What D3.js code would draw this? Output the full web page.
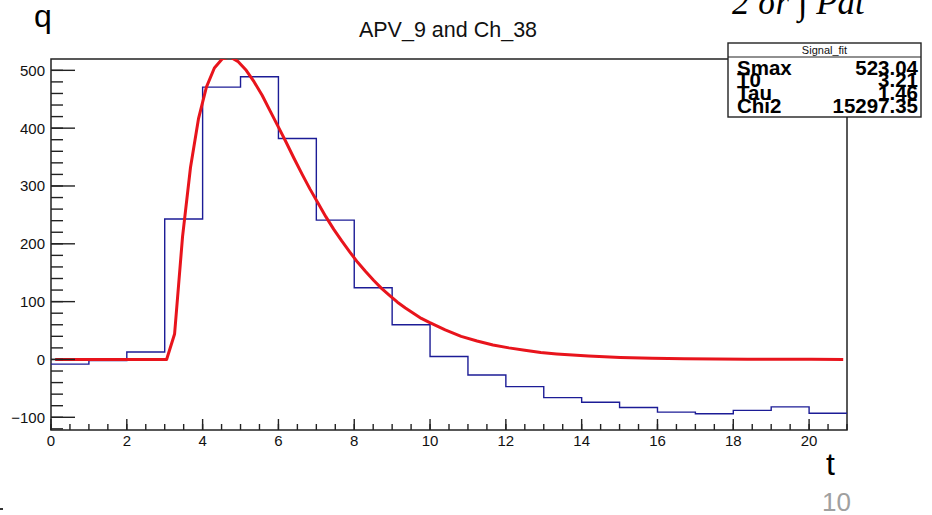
<!DOCTYPE html>
<html><head><meta charset="utf-8">
<script src="https://cdn.jsdelivr.net/npm/d3@7"></script>
<style>
html,body{margin:0;padding:0;background:#fff;}
svg{display:block;}
</style></head>
<body>
<svg id="chart" width="932" height="515"></svg>
<script>
// ---------- data ----------
const binStarts = [0,1,2,3,4,5,6,7,8,9,10,11,12,13,14,15,16,17,18,19,20];
const binWidth = 1;
const histValues = [-8,-2,13,243,471,489,382,241,124,60,5,-27,-47,-66,-74,-83,-91,-94,-88,-82,-93];
const fitT = [0.11,3.05,3.26,3.47,3.68,3.89,4.10,4.31,4.52,4.73,4.94,5.15,5.36,5.57,5.78,5.99,6.20,6.41,6.62,6.83,7.04,7.25,7.46,7.67,7.88,8.09,8.30,8.51,8.72,8.93,9.14,9.35,9.56,9.77,9.98,10.40,10.82,11.24,11.66,12.08,12.50,12.92,13.34,13.76,14.18,14.60,15.02,15.86,16.70,17.54,18.38,19.22,20.06,20.90];
const fitQ = [0,0,44,212,332,416,471,504,520,523,515,500,480,457,430,403,376,348,321,295,271,247,225,205,186,168,152,137,123,111,99,89,80,71,64,51,40,32,25,20,16,12,9.6,7.5,5.8,4.5,3.5,2.1,1.3,0.8,0.5,0.3,0.2,0.1];
const xTicks = [0,2,4,6,8,10,12,14,16,18,20];
const yTicks = [-100,0,100,200,300,400,500];
const statNames = ["Smax","T0","Tau","Chi2"];
const statValues = ["523.04","3.21","1.46","15297.35"];
const title = "APV_9 and Ch_38";

// ---------- layout ----------
const svg = d3.select("#chart");
const L = 51, R = 847, T = 59, B = 430;
const x = d3.scaleLinear().domain([0,21]).range([L,R]);
const y = d3.scaleLinear().domain([-122,519.6]).range([B,T]);
const font = "'Liberation Sans', Arial, Helvetica, sans-serif";

svg.append("defs").append("clipPath").attr("id","plotclip")
  .append("rect").attr("x",L).attr("y",T).attr("width",R-L).attr("height",B-T);

// frame
svg.append("rect").attr("x",L).attr("y",T).attr("width",R-L).attr("height",B-T)
  .attr("fill","none").attr("stroke","#222").attr("stroke-width",1.5);

// histogram
const histPts = binStarts.map((s,i)=>[s,histValues[i]]);
histPts.push([binStarts[binStarts.length-1]+binWidth, histValues[histValues.length-1]]);
svg.append("path").datum(histPts)
  .attr("d", d3.line().x(d=>x(d[0])).y(d=>y(d[1])).curve(d3.curveStepAfter))
  .attr("fill","none").attr("stroke","#1c1c96").attr("stroke-width",1.4);

// fit
svg.append("g").attr("clip-path","url(#plotclip)").append("path")
  .datum(fitT.map((t,i)=>[t,fitQ[i]]))
  .attr("d", d3.line().x(d=>x(d[0])).y(d=>y(d[1])))
  .attr("fill","none").attr("stroke","#e8141c").attr("stroke-width",3)
  .attr("stroke-linejoin","round");

// y axis (ticks pointing inward)
const yMinor = d3.range(-120, 520, 20);
const gy = svg.append("g");
gy.selectAll("line.minor").data(yMinor).join("line")
  .attr("x1",L).attr("x2",L+12).attr("y1",d=>y(d)).attr("y2",d=>y(d))
  .attr("stroke","#222").attr("stroke-width",1.4);
gy.selectAll("line.major").data(yTicks).join("line")
  .attr("x1",L).attr("x2",L+24).attr("y1",d=>y(d)).attr("y2",d=>y(d))
  .attr("stroke","#222").attr("stroke-width",1.4);
gy.selectAll("text").data(yTicks).join("text")
  .attr("x",L-6).attr("y",d=>y(d)).attr("dy","0.36em")
  .attr("text-anchor","end").attr("font-family",font).attr("font-size",15).attr("fill","#111")
  .text(d=>d<0 ? "\u2212"+Math.abs(d) : d);

// x axis
const xMinor = d3.range(0, 21.01, 0.5);
const gx = svg.append("g");
gx.selectAll("line.minor").data(xMinor).join("line")
  .attr("x1",d=>x(d)).attr("x2",d=>x(d)).attr("y1",B).attr("y2",B-6)
  .attr("stroke","#222").attr("stroke-width",1.4);
gx.selectAll("line.major").data(xTicks).join("line")
  .attr("x1",d=>x(d)).attr("x2",d=>x(d)).attr("y1",B).attr("y2",B-11)
  .attr("stroke","#222").attr("stroke-width",1.4);
gx.selectAll("text").data(xTicks).join("text")
  .attr("x",d=>x(d)).attr("y",446)
  .attr("text-anchor","middle").attr("font-family",font).attr("font-size",15).attr("fill","#111")
  .text(d=>d);

// title
svg.append("text").attr("x",448).attr("y",37).attr("text-anchor","middle")
  .attr("font-family",font).attr("font-size",21.5).attr("fill","#111").text(title);

// stats box
const bx = 728, by = 43, bw = 193, bh = 74;
svg.append("rect").attr("x",bx).attr("y",by).attr("width",bw).attr("height",bh)
  .attr("fill","#fff").attr("stroke","#222").attr("stroke-width",1.4);
svg.append("line").attr("x1",bx).attr("x2",bx+bw).attr("y1",57).attr("y2",57)
  .attr("stroke","#222").attr("stroke-width",1.2);
svg.append("text").attr("x",bx+bw/2).attr("y",54).attr("text-anchor","middle")
  .attr("font-family",font).attr("font-size",11).attr("fill","#111").text("Signal_fit");
const gs = svg.append("g");
statNames.forEach((n,i)=>{
  const yy = 74.5 + i*12.9;
  gs.append("text").attr("x",bx+9).attr("y",yy).attr("font-family",font)
    .attr("font-weight","bold").attr("font-size",20.5).attr("fill","#000").text(n);
  gs.append("text").attr("x",bx+bw-3).attr("y",yy).attr("text-anchor","end").attr("font-family",font)
    .attr("font-weight","bold").attr("font-size",20.5).attr("fill","#000").text(statValues[i]);
});

// slide annotations
svg.append("text").attr("x",34).attr("y",27).attr("font-family",font).attr("font-size",32).attr("fill","#000").text("q");
svg.append("text").attr("x",826).attr("y",475).attr("font-family",font).attr("font-size",32).attr("fill","#000").text("t");
svg.append("text").attr("x",822).attr("y",511).attr("font-family",font).attr("font-size",26).attr("fill","#a0a0a0").text("10");
svg.append("text").attr("x",732).attr("y",14).attr("font-family","'Liberation Serif', 'DejaVu Serif', serif")
  .attr("font-style","italic").attr("font-size",35).attr("fill","#000").text("2 σr ∫ Pdt");
svg.append("rect").attr("x",0).attr("y",508).attr("width",3).attr("height",2).attr("fill","#333");
</script>
</body></html>
